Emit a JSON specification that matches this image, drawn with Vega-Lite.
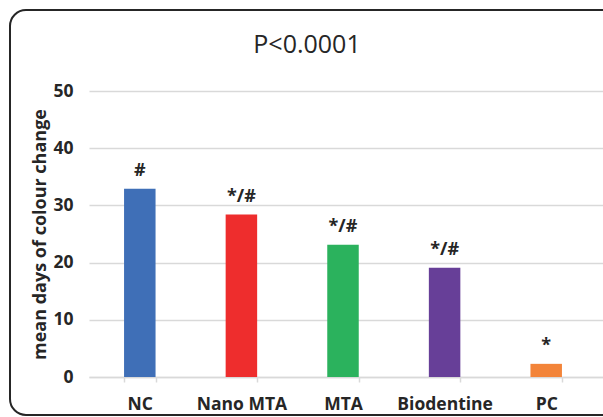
{
  "$schema": "https://vega.github.io/schema/vega-lite/v6.json",
  "width": 614,
  "height": 405,
  "autosize": "none",
  "padding": {"left": 10, "top": 10, "right": -21, "bottom": 2},
  "background": "white",
  "view": {"stroke": "#262626", "strokeWidth": 2, "cornerRadius": 16, "fill": "white"},
  "title": {
    "text": "P<0.0001",
    "font": "Open Sans",
    "fontSize": 25,
    "fontWeight": "normal",
    "color": "#262626",
    "anchor": "middle",
    "frame": "group",
    "baseline": "alphabetic",
    "dx": -10,
    "offset": -68
  },
  "data": {
    "values": [
      {"group": "NC", "days": 32.9, "sig": "#"},
      {"group": "Nano MTA", "days": 28.4, "sig": "*/#"},
      {"group": "MTA", "days": 23.1, "sig": "*/#"},
      {"group": "Biodentine", "days": 19.1, "sig": "*/#"},
      {"group": "PC", "days": 2.3, "sig": "*"}
    ]
  },
  "encoding": {
    "x": {
      "field": "group",
      "type": "nominal",
      "sort": null,
      "scale": {"paddingInner": 0.69, "paddingOuter": 0.4779, "align": 0.361, "range": [79, 614]},
      "axis": {
        "title": null,
        "offset": -38,
        "labelAngle": 0,
        "labelFont": "Open Sans",
        "labelFontWeight": "bold",
        "labelFontSize": 17.5,
        "labelColor": "#262626",
        "labelPadding": 13,
        "domainColor": "#D9D9D9",
        "domainWidth": 1.5,
        "ticks": true,
        "tickBand": "extent",
        "tickColor": "#D9D9D9",
        "tickWidth": 1.5,
        "tickSize": 5,
        "grid": false
      }
    },
    "y": {
      "field": "days",
      "type": "quantitative",
      "scale": {"domain": [0, 50], "nice": false, "range": [367, 81]},
      "axis": {
        "title": "mean days of colour change",
        "offset": -79,
        "titleFont": "Open Sans",
        "titleFontWeight": "bold",
        "titleFontSize": 18,
        "titleColor": "#262626",
        "titlePadding": 3,
        "values": [0, 10, 20, 30, 40, 50],
        "labelFont": "Open Sans",
        "labelFontWeight": "bold",
        "labelFontSize": 17.5,
        "labelColor": "#262626",
        "labelPadding": 16,
        "domain": false,
        "ticks": false,
        "grid": true,
        "gridColor": "#D9D9D9",
        "gridWidth": 1.5
      }
    }
  },
  "layer": [
    {
      "mark": {"type": "bar"},
      "encoding": {
        "color": {
          "field": "group",
          "type": "nominal",
          "sort": null,
          "legend": null,
          "scale": {
            "domain": ["NC", "Nano MTA", "MTA", "Biodentine", "PC"],
            "range": ["#3F6FB7", "#EE2D2D", "#2BB25D", "#673F98", "#F38439"]
          }
        }
      }
    },
    {
      "mark": {
        "type": "text",
        "baseline": "alphabetic",
        "dy": -13,
        "font": "Open Sans",
        "fontWeight": "bold",
        "fontSize": 18,
        "color": "#262626"
      },
      "encoding": {"text": {"field": "sig"}}
    }
  ],
  "config": {
    "view": {"stroke": "#262626", "strokeWidth": 2, "cornerRadius": 16}
  }
}
